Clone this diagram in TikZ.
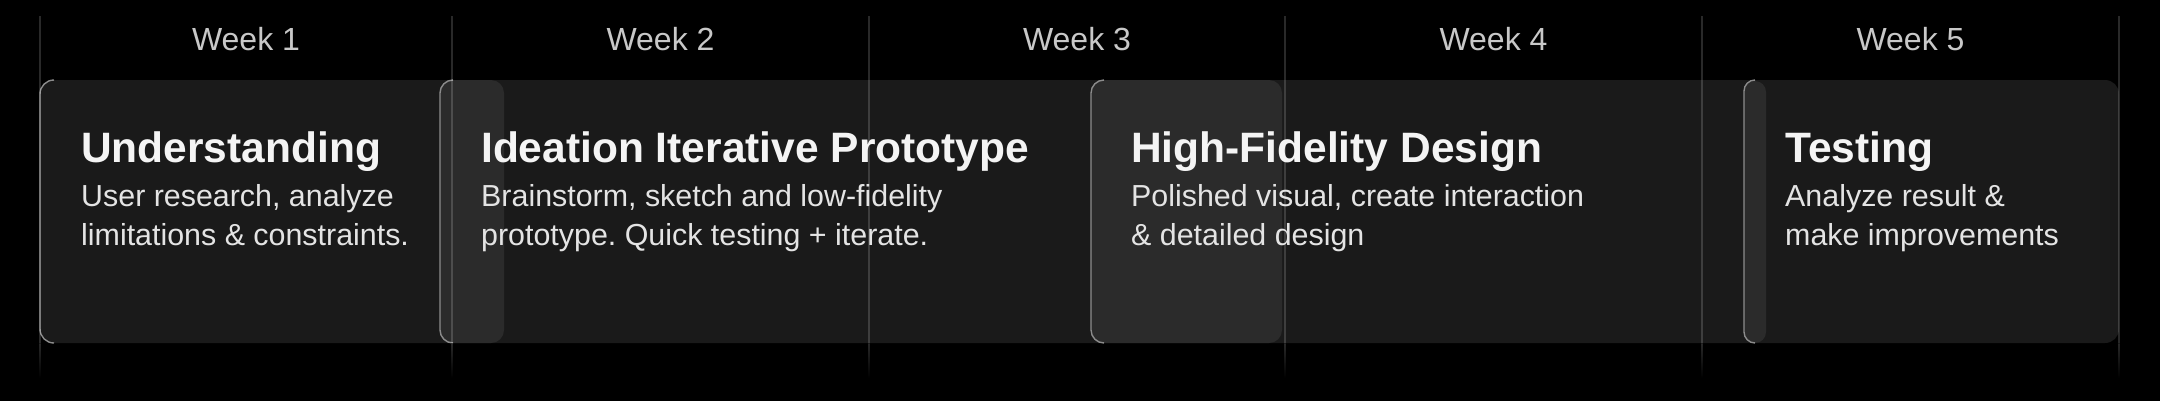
\documentclass[tikz,border=0pt]{standalone}
\usepackage{fontspec}
\setmainfont{Liberation Sans}
\usetikzlibrary{calc,positioning}
\definecolor{cardgray}{HTML}{1A1A1A}
\definecolor{tabgray}{HTML}{2C2C2C}
\definecolor{edgegray}{HTML}{8C8C8C}
\definecolor{weektext}{HTML}{C8C8C8}
\definecolor{bodytext}{HTML}{E4E4E4}
\definecolor{titletext}{HTML}{F4F4F4}
\def\leftedge(#1,#2,#3){\draw[edgegray, line width=1.4pt] ($(#1,80)+(#3pt,0)$) arc (90:180:#3pt) -- ($(#1,#2)+(0,#3pt)$) arc (180:270:#3pt);}
\tikzset{
  weeklabel/.style={anchor=base, inner sep=0pt, text=weektext, font=\fontsize{32}{38}\selectfont},
  phasetitle/.style={anchor=base west, inner sep=0pt, text=titletext, font=\bfseries\fontsize{42.5}{50}\selectfont},
  phasebody/.style={anchor=base west, inner sep=0pt, text=bodytext, font=\fontsize{30.4}{39}\selectfont},
  tab/.style={fill=tabgray, fill opacity=0.95}
}
\frenchspacing

\begin{document}
\begin{tikzpicture}[x=1pt, y=-1pt]
			%%%%% START %%%%%
			\useasboundingbox (0,0) rectangle (2160,400);
			\fill[black] (-5,-5) rectangle (2165,405);
			
			% the long card
			\fill[cardgray, rounded corners=14pt] (40,80) rectangle (2119,343);
			\leftedge(40,343,14)
			
			% progress tabs
			\fill[tab, rounded corners=13pt] (440,80) rectangle (504,343);
			\leftedge(440,343,13)
			\fill[tab, rounded corners=13pt] (1091,80) rectangle (1282,343);
			\leftedge(1091,343,13)
			\fill[tab, rounded corners=11pt] (1744,81) rectangle (1766,343);
			\leftedge(1744,343,11)
			
			% week grid
			\draw[white, opacity=0.16, line width=1.3pt] (40,16) -- (40,343);
			\draw[white, opacity=0.16, line width=1.3pt] (452,16) -- (452,343);
			\draw[white, opacity=0.16, line width=1.3pt] (869,16) -- (869,343);
			\draw[white, opacity=0.16, line width=1.3pt] (1285,16) -- (1285,343);
			\draw[white, opacity=0.16, line width=1.3pt] (1702,16) -- (1702,343);
			\draw[white, opacity=0.16, line width=1.3pt] (2119,16) -- (2119,343);
			\shade[top color=white!16!black, bottom color=black] (39.35,343) rectangle (40.65,378);
			\shade[top color=white!16!black, bottom color=black] (451.35,343) rectangle (452.65,378);
			\shade[top color=white!16!black, bottom color=black] (868.35,343) rectangle (869.65,378);
			\shade[top color=white!16!black, bottom color=black] (1284.35,343) rectangle (1285.65,378);
			\shade[top color=white!16!black, bottom color=black] (1701.35,343) rectangle (1702.65,378);
			\shade[top color=white!16!black, bottom color=black] (2118.35,343) rectangle (2119.65,378);
			
			\node[weeklabel] (week1) at (246,50) {Week 1};
			\node[weeklabel] (week2) at (660.5,50) {Week 2};
			\node[weeklabel] (week3) at (1077,50) {Week 3};
			\node[weeklabel] (week4) at (1493.5,50) {Week 4};
			\node[weeklabel] (week5) at (1910.5,50) {Week 5};
			
			% phases
			\node[phasetitle] (understanding) at (81,162) {Understanding};
			\node[phasebody] (understandingA) at (81,206) {User research, analyze};
			\node[phasebody] (understandingB) at (81,245) {limitations \& constraints.};
			
			\node[phasetitle] (ideation) at (481,162) {Ideation Iterative Prototype};
			\node[phasebody] (ideationA) at (481,206) {Brainstorm, sketch and low-fidelity};
			\node[phasebody] (ideationB) at (481,245) {prototype. Quick testing + iterate.};
			
			\node[phasetitle] (hifi) at (1131,162) {High-Fidelity Design};
			\node[phasebody] (hifiA) at (1131,206) {Polished visual, create interaction};
			\node[phasebody] (hifiB) at (1131,245) {\& detailed design};
			
			\node[phasetitle] (testing) at (1785,162) {Testing};
			\node[phasebody] (testingA) at (1785,206) {Analyze result \&};
			\node[phasebody] (testingB) at (1785,245) {make improvements};
			%%%%% END %%%%%
\end{tikzpicture}
\end{document}
